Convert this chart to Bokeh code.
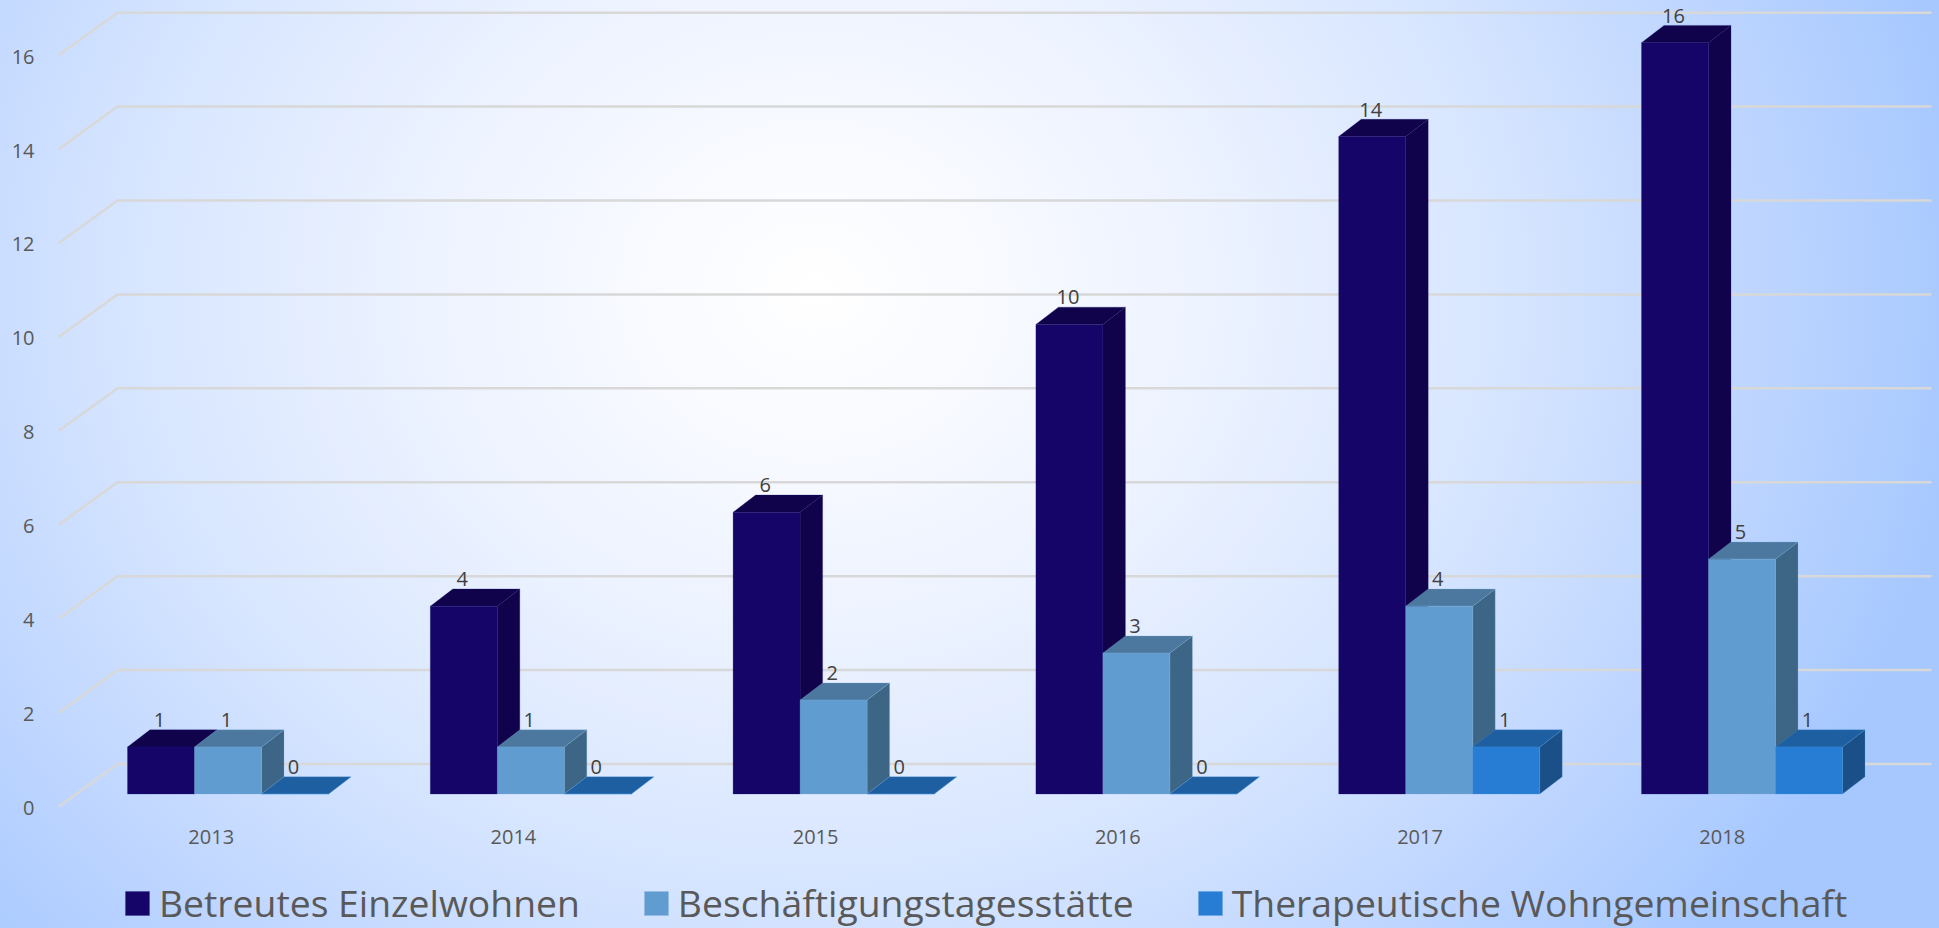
from bokeh.embed import file_html
from bokeh.resources import INLINE
from bokeh.plotting import figure
from bokeh.models import Range1d, LinearAxis, FixedTicker, Legend, LegendItem, ColumnDataSource
from bokeh.core.properties import value

# Data
years = ["2013", "2014", "2015", "2016", "2017", "2018"]
einzelwohnen = [1, 4, 6, 10, 14, 16]
tagesstaette = [1, 1, 2, 3, 4, 5]
wohngemeinschaft = [0, 0, 0, 0, 1, 1]
y_ticks = [0, 2, 4, 6, 8, 10, 12, 14, 16]

series = [
    ("Betreutes Einzelwohnen", einzelwohnen, "#150569", "#10034c", "#10034c", "#1d1270"),
    ("Beschäftigungstagesstätte", tagesstaette, "#619cd0", "#4c789f", "#3d6586", "#7fb2dc"),
    ("Therapeutische Wohngemeinschaft", wohngemeinschaft, "#267dd3", "#1e5fa1", "#1a5087", "#4c97de"),
]

# Page layout, in pixels
W, H = 1939, 928
frame_left = 50
pitch, unit = 302.8, 46.96          # pixels per category, pixels per value
group_x0, base_y = 227.5, 793.5     # centre of the first group, front base of the bars
bar_w = 67.0 / pitch
depth_x, depth_y = 22.5 / pitch, 17.2 / unit
label_x0, label_pitch, label_drop = 210.7, 302.2, 42.5  # year labels under the bar groups

# Oblique floor geometry of the grid lines
grid_front_x, grid_back_x, grid_end_x = 58.0, 117.0, 1931.0
grid_front_shift, grid_back_shift = -12.7 / unit, 30.0 / unit
tick_shift = -14.0 / unit


def px_x(px):
    return (px - group_x0) / pitch


p = figure(
    frame_width=W - frame_left, frame_height=H, output_backend="svg", toolbar_location=None,
    x_range=Range1d(px_x(frame_left), px_x(W)),
    y_range=Range1d((base_y - H) / unit, base_y / unit),
    x_axis_location=None, y_axis_location=None,
    min_border_left=frame_left, min_border_right=0, min_border_top=0, min_border_bottom=0,
    background_fill_color=None, border_fill_color=None, outline_line_color=None,
)
p.grid.visible = False
p.styles = {
    "background": "radial-gradient(ellipse 1160px 1000px at 815px 290px, "
                  "#ffffff 0%, #f8faff 15%, #ecf2ff 35%, #d6e5ff 60%, #bfd6ff 80%, #a6c8ff 100%)"
}

# Value axis sits on the front edge of the floor
p.extra_y_ranges["front"] = Range1d(
    (base_y - H) / unit - tick_shift, base_y / unit - tick_shift)
y_axis = LinearAxis(y_range_name="front", ticker=FixedTicker(ticks=y_ticks))
y_axis.axis_line_color = None
y_axis.major_tick_line_color = None
y_axis.minor_tick_line_color = None
y_axis.major_label_text_font = "Open Sans"
y_axis.major_label_text_font_size = "20px"
y_axis.major_label_text_color = "#595959"
y_axis.major_label_standoff = 10
p.add_layout(y_axis, "left")

# Grid lines: front edge up to the back wall, then across
grid_xs = [[px_x(grid_front_x), px_x(grid_back_x), px_x(grid_end_x)] for _ in y_ticks]
grid_ys = [[t + grid_front_shift, t + grid_back_shift, t + grid_back_shift] for t in y_ticks]
p.multi_line(grid_xs, grid_ys, line_color="#d8d8d8", line_width=2.5)

# Bars: side and top faces in oblique projection, then the front face
legend_items = []
offsets = [-bar_w, 0.0, bar_w]
for (name, vals, front, top, side, edge), off in zip(series, offsets):
    left = [i + off - bar_w / 2 for i in range(len(vals))]
    right = [i + off + bar_w / 2 for i in range(len(vals))]
    side_xs = [[r, r + depth_x, r + depth_x, r] for r in right]
    side_ys = [[0, depth_y, v + depth_y, v] for v in vals]
    top_xs = [[l, l + depth_x, r + depth_x, r] for l, r in zip(left, right)]
    top_ys = [[v, v + depth_y, v + depth_y, v] for v in vals]
    p.patches(side_xs, side_ys, fill_color=side, line_color=edge, line_width=0.5, line_alpha=0.5)
    p.patches(top_xs, top_ys, fill_color=top, line_color=edge, line_width=0.5, line_alpha=0.5)
    bars = p.vbar(x=[i + off for i in range(len(vals))], top=vals, bottom=0, width=bar_w,
                  fill_color=front, line_color=edge, line_width=0.5, line_alpha=0.5)
    legend_items.append(LegendItem(label=name, renderers=[bars]))

# Data labels above each bar's front face
for (name, vals, *_), off in zip(series, offsets):
    src = ColumnDataSource(dict(x=[i + off for i in range(len(vals))], y=vals,
                                t=[str(v) for v in vals]))
    p.text("x", "y", text="t", source=src, x_offset=-1.5, y_offset=-27,
           text_align="center", text_baseline="middle",
           text_font=value("Open Sans"), text_font_size="20px", text_color="#404040")

# Year labels under the groups
year_src = ColumnDataSource(dict(
    x=[px_x(label_x0 + i * label_pitch) for i in range(len(years))],
    y=[0] * len(years), t=years))
p.text("x", "y", text="t", source=year_src, y_offset=label_drop,
       text_align="center", text_baseline="middle",
       text_font=value("Open Sans"), text_font_size="20px", text_color="#595959")

legend = Legend(items=legend_items, orientation="horizontal", location=(72, 0),
                glyph_width=30, glyph_height=30, label_standoff=7, spacing=61,
                padding=0, margin=0, border_line_color=None, background_fill_alpha=0,
                label_text_font="Open Sans", label_text_font_size="37.3px",
                label_text_color="#595959", label_height=30)
p.add_layout(legend)

open("out.html", "w").write(file_html(p, INLINE))
